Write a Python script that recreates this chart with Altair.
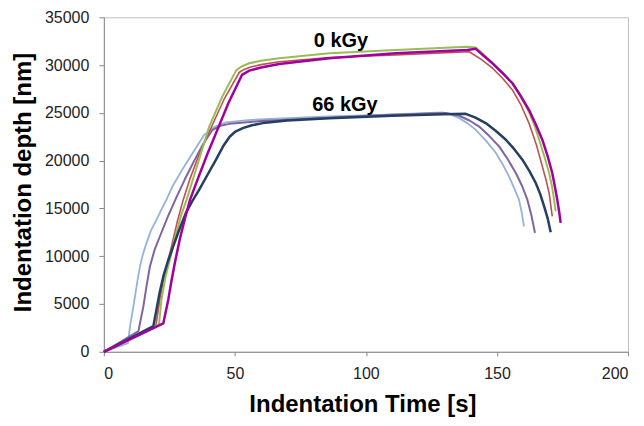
import altair as alt
import pandas as pd

# ---- data (time [s], depth [nm]) ----
lb_t = [0, 9.2, 10.0, 11.0, 11.9, 12.8, 13.8, 15.0, 16.3, 18.0, 20.1, 22.0, 23.9, 26.2, 30.0, 33.9, 38.3, 42.0, 46.6, 55, 70, 86, 105, 120, 129.2, 132.5, 135.6, 138.8, 141.9, 145.8, 149.6, 152.2, 154.6, 156.6, 158.4, 159.5, 160.3]
lb_d = [0, 900, 2690, 4300, 5830, 7400, 8960, 10300, 11400, 12700, 13830, 14900, 15920, 17310, 19100, 20800, 22700, 23500, 24000, 24250, 24450, 24620, 24800, 24950, 25040, 24800, 24450, 23900, 23230, 22100, 20800, 19600, 18350, 17100, 15920, 14500, 13130]

pu_t = [0, 13.2, 15.1, 16.3, 17.6, 19.4, 21.4, 24.5, 27.6, 31.0, 34.5, 38.0, 41.5, 44.5, 47.9, 60, 86, 110, 130.5, 135.6, 139.5, 143.2, 147.0, 150.8, 154.0, 157.2, 159.5, 161.6, 163.2, 164.5]
pu_d = [0, 2170, 4780, 6900, 8960, 10700, 12090, 14200, 16100, 18100, 20000, 21800, 23230, 23650, 23850, 24150, 24500, 24800, 25000, 24700, 24200, 23570, 22600, 21490, 20200, 18710, 17400, 15920, 14200, 12440]

nv_t = [0, 18.9, 20.1, 21.3, 22.7, 24.5, 26.5, 28.8, 31.3, 33.8, 36.4, 39.5, 42.8, 45.5, 48.0, 50.0, 53.0, 56.5, 60.6, 70, 86, 110, 129.2, 138.1, 141.8, 145.7, 149.6, 153.4, 156.6, 159.7, 162.4, 164.8, 166.5, 168.0, 169.4, 170.5]
nv_d = [0, 2690, 4440, 6200, 7910, 9500, 11050, 12800, 14530, 15800, 16960, 18500, 20100, 21500, 22500, 23000, 23400, 23700, 23930, 24200, 24450, 24700, 24850, 24900, 24500, 23930, 23100, 22190, 21200, 20100, 18900, 17660, 16500, 15220, 13900, 12510]

rd_t = [0, 19.8, 21.4, 22.6, 23.9, 25.8, 28.0, 30.3, 33.0, 36.0, 41.0, 46.0, 51.7, 53.5, 56.0, 60.0, 66.9, 86, 111.4, 139.4, 144.0, 148.3, 152.2, 155.9, 159.2, 162.2, 165.0, 167.3, 168.8, 169.9, 171.1]
rd_d = [0, 2650, 5480, 7300, 8960, 11000, 13600, 15920, 18200, 20400, 23500, 26500, 29250, 29550, 29800, 30050, 30350, 30800, 31060, 31400, 30600, 29670, 28600, 27400, 25800, 23930, 21700, 19400, 17900, 16620, 14180]

gr_t = [0, 21.0, 22.0, 23.5, 25.2, 27.5, 29.5, 31.6, 34.5, 37.3, 40.2, 45.0, 50.5, 52.5, 55.5, 60.0, 66.9, 86, 111.4, 138.7, 141.9, 145.0, 148.3, 152.0, 155.9, 159.0, 162.2, 164.3, 166.1, 168.1, 169.9, 171.0, 171.8, 172.4]
gr_d = [0, 2800, 5480, 7800, 9660, 12300, 14300, 15920, 18500, 21000, 23570, 26600, 29450, 29850, 30190, 30450, 30710, 31240, 31580, 31930, 31850, 31100, 30190, 29200, 28100, 26700, 25100, 23700, 22190, 20400, 18710, 17300, 15920, 14700]

mg_t = [0, 22.7, 24.6, 25.8, 27.1, 29.0, 31.0, 32.9, 36.0, 39.5, 42.8, 47.5, 52.7, 55.5, 60.0, 66.9, 86, 111.4, 138.7, 141.9, 145.0, 148.3, 152.0, 155.9, 159.0, 162.2, 164.8, 167.3, 169.3, 171.1, 172.1, 173.0, 173.7, 174.3]
mg_d = [0, 2980, 5480, 7400, 9310, 11800, 14000, 15920, 18200, 20700, 22880, 26000, 28970, 29420, 29750, 30120, 30710, 31240, 31580, 31700, 30950, 30190, 29200, 28100, 26800, 25320, 23800, 22190, 20500, 18710, 17300, 15920, 14700, 13490]

series = [
    ("lb", lb_t, lb_d, "#95B3D7", 1.8),
    ("pu", pu_t, pu_d, "#8064A2", 2.0),
    ("rd", rd_t, rd_d, "#C0504D", 1.6),
    ("gr", gr_t, gr_d, "#9BBB59", 2.0),
    ("nv", nv_t, nv_d, "#243F60", 2.5),
    ("mg", mg_t, mg_d, "#A0009F", 2.5),
]

label_text = ["0 kGy", "66 kGy"]
label_t = [80.1, 79.5]
label_d = [31925, 25240]

x_ticks = [0, 50, 100, 150, 200]
y_ticks = [0, 5000, 10000, 15000, 20000, 25000, 30000, 35000]

FONT = "Liberation Sans"

x_enc = alt.X(
    "t:Q",
    scale=alt.Scale(domain=[0, 200], nice=False, zero=False),
    axis=alt.Axis(
        values=x_ticks, title="Indentation Time [s]", grid=False,
        domainColor="#888888", tickColor="#888888", tickSize=4,
        labelFont=FONT, labelFontSize=16, labelColor="#222222", labelPadding=10,
        titleFont=FONT, titleFontSize=24, titleFontWeight="bold", titleColor="#000000",
        titleY=60, titleX=259, titleBaseline="alphabetic",
    ),
)
y_enc = alt.Y(
    "d:Q",
    scale=alt.Scale(domain=[0, 35000], nice=False),
    axis=alt.Axis(
        values=y_ticks, format="d", title="Indentation depth [nm]", grid=False,
        domainColor="#888888", tickColor="#888888", tickSize=5,
        labelFont=FONT, labelFontSize=16, labelColor="#222222", labelPadding=10,
        titleFont=FONT, titleFontSize=24, titleFontWeight="bold", titleColor="#000000",
        titleX=-73, titleY=165, titleBaseline="alphabetic", titleAngle=270,
    ),
)

layers = []
for name, ts, ds, col, w in series:
    df = pd.DataFrame({"t": ts, "d": ds, "i": list(range(len(ts)))})
    layers.append(
        alt.Chart(df).mark_line(color=col, strokeWidth=w, strokeJoin="round").encode(
            x=x_enc, y=y_enc, order="i:Q"
        )
    )

lab_df = pd.DataFrame({"t": label_t, "d": label_d, "txt": label_text})
layers.append(
    alt.Chart(lab_df).mark_text(
        font=FONT, fontSize=20, fontWeight="bold", color="#000000",
        align="left", baseline="alphabetic",
    ).encode(x=x_enc, y=y_enc, text="txt:N")
)

chart = alt.layer(*layers).properties(
    width=525, height=335,
    autosize=alt.AutoSizeParams(type="none"),
    padding={"left": 96, "top": 9, "right": 8, "bottom": 66},
    background="white",
).configure_view(stroke="#c0c0c0", strokeWidth=1)

chart.save("out.html", embed_options={"renderer": "svg", "actions": False})
